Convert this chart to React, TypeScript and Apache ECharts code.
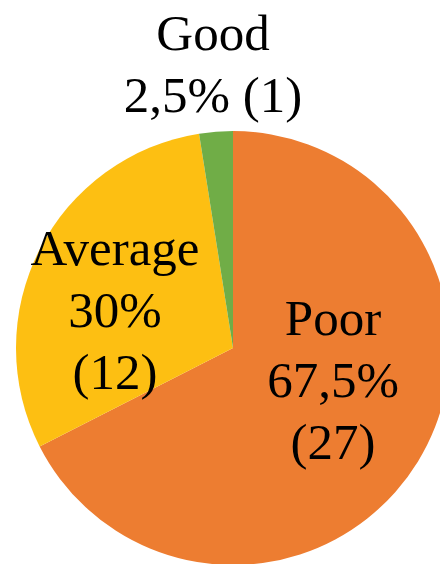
import React, { useEffect, useRef } from "react";
import * as echarts from "echarts";

const categories = ["Poor", "Average", "Good"];
const counts = [27, 12, 1];
const colors = ["#ED7D31", "#FDBF12", "#70AD47"];
const percentText = ["67,5%", "30%", "2,5%"];

export default function App() {
  const ref = useRef<HTMLDivElement>(null);
  useEffect(() => {
    if (!ref.current) return;
    const chart = echarts.init(ref.current, undefined, { renderer: "svg" });
    const labelPos: Record<number, [number, number]> = {
      0: [333, 380],
      1: [115, 310],
      2: [213, 64],
    };
    chart.setOption({
      animation: false,
      backgroundColor: "#ffffff",
      series: [
        {
          type: "pie",
          center: [233, 348],
          radius: [0, 217],
          startAngle: 90,
          clockwise: true,
          avoidLabelOverlap: false,
          itemStyle: { borderWidth: 0 },
          emphasis: { disabled: true },
          labelLine: { show: false },
          label: {
            show: true,
            position: "inside",
            color: "#000000",
            fontFamily: "Liberation Serif",
            fontSize: 51,
            lineHeight: 62,
            align: "center",
            formatter: (p: any) =>
              p.dataIndex === 2
                ? `${p.name}\n${percentText[p.dataIndex]} (${p.value})`
                : `${p.name}\n${percentText[p.dataIndex]}\n(${p.value})`,
          },
          labelLayout: (params: any) => {
            const pos = labelPos[params.dataIndex];
            return { x: pos[0], y: pos[1], align: "center", verticalAlign: "middle" };
          },
          data: categories.map((c, i) => ({
            name: c,
            value: counts[i],
            itemStyle: { color: colors[i] },
          })),
        },
      ],
    });
    return () => chart.dispose();
  }, []);
  return (
    <div
      ref={ref}
      style={{ position: "fixed", left: 0, top: 0, width: 440, height: 564 }}
    />
  );
}
